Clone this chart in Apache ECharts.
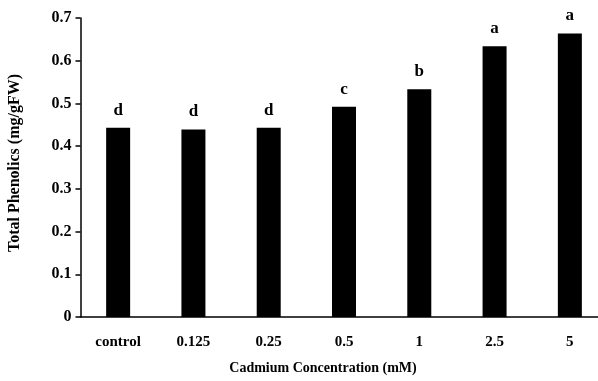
<!DOCTYPE html>
<html>
<head>
<meta charset="utf-8">
<script src="https://cdn.jsdelivr.net/npm/echarts@6/dist/echarts.min.js"></script>
<style>html,body{margin:0;padding:0;background:#fff;}#c{width:598px;height:381px;}</style>
</head>
<body>
<div id="c"></div>
<script>
const categories = ['control', '0.125', '0.25', '0.5', '1', '2.5', '5'];
const values = [0.443, 0.439, 0.443, 0.492, 0.533, 0.634, 0.664];
const letters = ['d', 'd', 'd', 'c', 'b', 'a', 'a'];
const yTicks = [0, 0.1, 0.2, 0.3, 0.4, 0.5, 0.6, 0.7];

const FONT = '"Liberation Serif", "Times New Roman", serif';
const chart = echarts.init(document.getElementById('c'), null, {renderer: 'canvas'});
chart.setOption({
  backgroundColor: '#fff',
  animation: false,
  grid: {left: 80.5, width: 527, top: 18, height: 299, outerBoundsMode: 'none', containLabel: false},
  xAxis: {
    type: 'category',
    data: categories,
    axisLine: {lineStyle: {color: '#000', width: 1.5}},
    axisTick: {show: false},
    axisLabel: {color: '#000', fontFamily: FONT, fontWeight: 'bold', fontSize: 15, margin: 18},
    name: 'Cadmium Concentration (mM)',
    nameLocation: 'middle',
    nameGap: 44,
    nameTextStyle: {color: '#000', fontFamily: FONT, fontWeight: 'bold', fontSize: 14, padding: [0, 0, 0, -42]}
  },
  yAxis: {
    type: 'value',
    min: 0, max: 0.7, interval: 0.1,
    axisLine: {show: true, lineStyle: {color: '#000', width: 1.5}},
    axisTick: {show: true, length: 5, lineStyle: {color: '#000', width: 1.5}},
    splitLine: {show: false},
    axisLabel: {color: '#000', fontFamily: FONT, fontWeight: 'bold', fontSize: 16, margin: 9,
      formatter: v => String(Math.round(v * 10) / 10)},
    name: 'Total Phenolics (mg/gFW)',
    nameLocation: 'middle',
    nameGap: 57.5,
    nameTextStyle: {color: '#000', fontFamily: FONT, fontWeight: 'bold', fontSize: 16, padding: [0, 0, 0, 9]}
  },
  series: [{
    type: 'bar',
    data: values,
    barWidth: 24,
    itemStyle: {color: '#000'},
    label: {
      show: true, position: 'top', distance: 9,
      formatter: p => letters[p.dataIndex],
      color: '#000', fontFamily: FONT, fontWeight: 'bold', fontSize: 17
    }
  }]
});
</script>
</body>
</html>
